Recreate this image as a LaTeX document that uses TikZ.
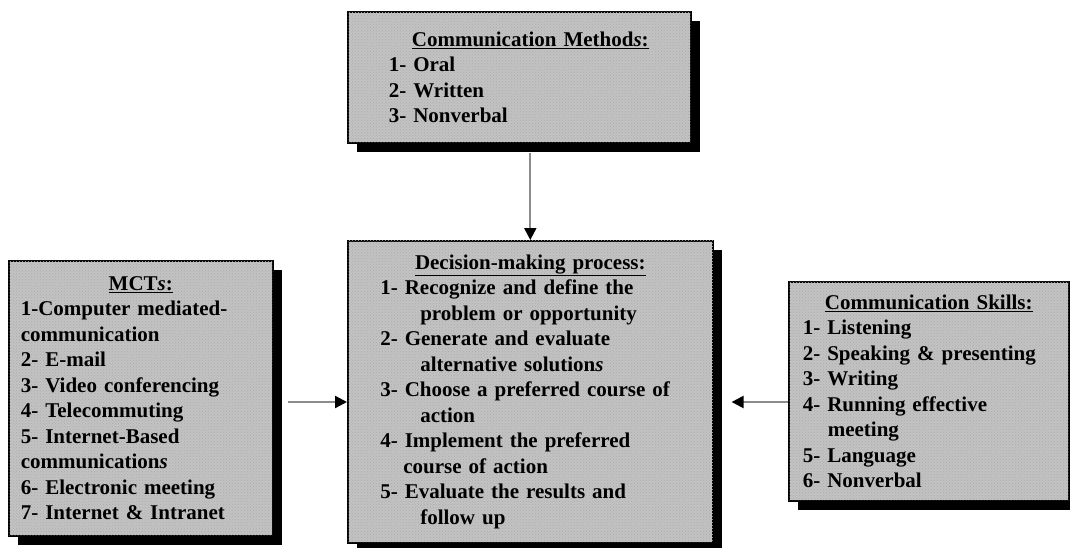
\documentclass[tikz,border=0pt]{standalone}
\usepackage{fontspec}
\setmainfont{Liberation Serif}
\usepackage{tikz}
\usetikzlibrary{arrows.meta, shadows, patterns}

\begin{document}
\begin{tikzpicture}[x=1pt, y=-1pt,
    box/.style={draw=black, line width=1.6pt, fill=black!24, anchor=north west,
        postaction={pattern=crosshatch dots, pattern color=black!32},
        drop shadow={shadow xshift=9pt, shadow yshift=-9pt, fill=black, opacity=1},
        inner ysep=0pt, align=left, font=\bfseries\fontsize{21}{25.5}\selectfont},
    flow/.style={draw=black!45, line width=2.2pt,
        -{Triangle[length=12pt, width=12pt, color=black]}}]
    \useasboundingbox (0, 0) rectangle (1070, 548);

    % 沟通方法
    \node[box, minimum width=343pt, minimum height=131pt, text width=261pt, inner xsep=41pt]
        (meth) at (347, 11) {\makebox[\linewidth][c]{\hspace*{22pt}\underline{Communication Method\textit{s}:}}\\
        1- Oral\\
        2- Written\\
        3- Nonverbal};

    % 决策过程
    \node[box, minimum width=365pt, minimum height=302pt, text width=300pt, inner xsep=32.5pt]
        (dec) at (347, 240) {\makebox[\linewidth][c]{\underline{Decision-making process:}}\\
        1- Recognize and define the\\
        \hspace*{40pt}problem or opportunity\\
        2- Generate and evaluate\\
        \hspace*{40pt}alternative solution\textit{s}\\
        3- Choose a preferred course of\\
        \hspace*{40pt}action\\
        4- Implement the preferred\\
        \hspace*{23pt}course of action\\
        5- Evaluate the results and\\
        \hspace*{40pt}follow up};

    % MCTs
    \node[box, minimum width=264pt, minimum height=275pt, text width=240pt, inner xsep=12pt]
        (mct) at (8, 260) {\makebox[\linewidth][c]{\underline{MCT\textit{s}:}}\\
        1-Computer mediated-\\
        communication\\
        2- E-mail\\
        3- Video conferencing\\
        4- Telecommuting\\
        5- Internet-Based\\
        communication\textit{s}\\
        6- Electronic meeting\\
        7- Internet \& Intranet};

    % 沟通技能
    \node[box, minimum width=280pt, minimum height=219pt, text width=252pt, inner xsep=14pt]
        (skill) at (788, 281) {\makebox[\linewidth][c]{\underline{Communication Skills:}}\\
        1- Listening\\
        2- Speaking \& presenting\\
        3- Writing\\
        4- Running effective\\
        \hspace*{25pt}meeting\\
        5- Language\\
        6- Nonverbal};

    % 箭头
    \coordinate (lin) at (288, 402);
    \draw[flow] ([yshift=-9pt]meth.south -| dec.north) -- (dec.north);
    \draw[flow] (lin) -- (lin -| dec.west);
    \draw[flow] (skill.west |- lin) -- ([xshift=18pt]dec.east |- lin);
\end{tikzpicture}
\end{document}
